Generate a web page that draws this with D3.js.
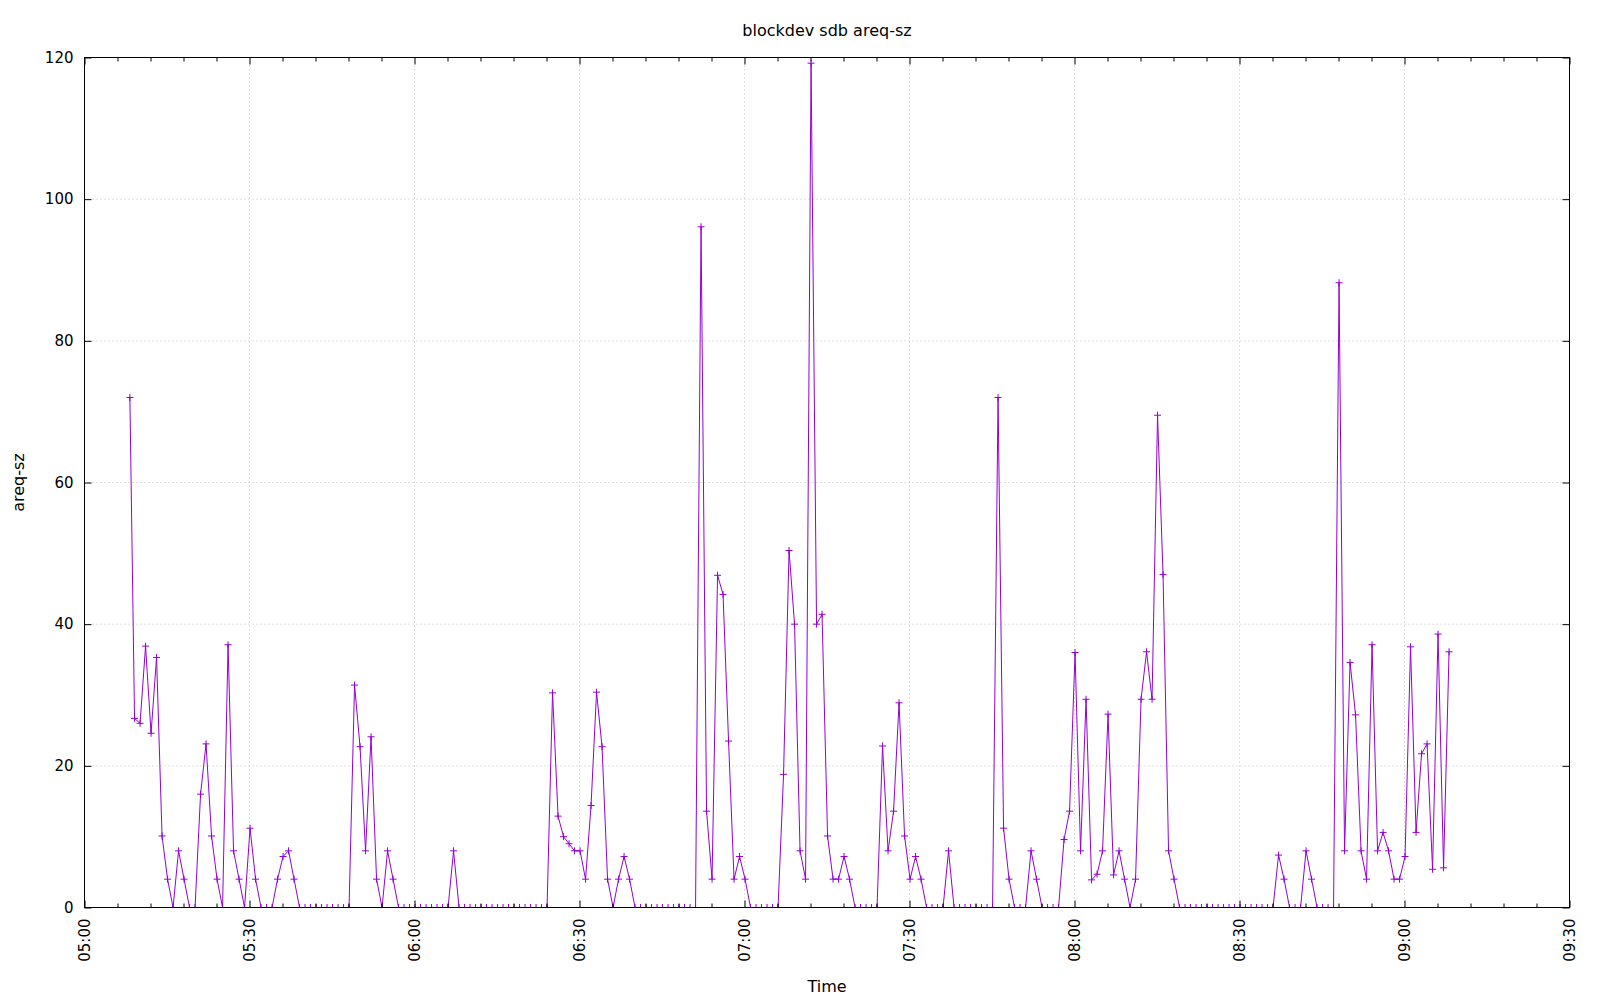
<!DOCTYPE html>
<html>
<head>
<meta charset="utf-8">
<script src="https://cdn.jsdelivr.net/npm/d3@7"></script>
<style>
  body { margin: 0; background: #fff; }
  svg text { font-family: "DejaVu Sans", sans-serif; font-size: 15px; fill: #000; }
  svg text.label { font-size: 16px; }
</style>
</head>
<body>
<div class="svg-container"></div>
<script>
const chartTitle = 'blockdev sdb areq-sz';
const xLabel = 'Time';
const yLabel = 'areq-sz';

// sampling: one odd first sample, then one every minute
const firstSampleTime = '05:08:15';
const sampleStart = '05:09:06';
const sampleStepSec = 60;

const areqSz = [
  72.0,
  26.7, 26.0, 36.9, 24.6, 35.3, 10.1, 4.0, 0, 8.0, 4.0, 0, 0, 16.0, 23.1, 10.1, 4.0, 0, 37.1, 8.0, 4.0,
  0, 11.2, 4.0, 0, 0, 0, 4.0, 7.2, 8.0, 4.0,
  0, 0, 0, 0, 0, 0, 0, 0, 0, 0,
  31.4, 22.7, 8.0, 24.1, 4.0, 0, 8.0, 4.0, 0, 0,
  0, 0, 0, 0, 0, 0, 0, 0, 8.0, 0,
  0, 0, 0, 0, 0, 0, 0, 0, 0, 0,
  0, 0, 0, 0, 0, 0, 30.3, 12.9, 10.0, 9.0,
  8.0, 8.0, 4.0, 14.4, 30.4, 22.7, 4.0, 0, 4.0, 7.2,
  4.0, 0, 0, 0, 0, 0, 0, 0, 0, 0,
  0, 0, 0, 96.1, 13.6, 4.0, 46.9, 44.2, 23.5, 4.0,
  7.2, 4.0, 0, 0, 0, 0, 0, 0, 18.8, 50.4,
  40.0, 8.0, 4.0, 119.2, 40.0, 41.4, 10.1, 4.0, 4.0, 7.2,
  4.0, 0, 0, 0, 0, 0, 22.8, 8.0, 13.6, 28.9,
  10.1, 4.0, 7.2, 4.0, 0, 0, 0, 0, 8.0, 0,
  0, 0, 0, 0, 0, 0, 0, 72.0, 11.2, 4.0,
  0, 0, 0, 8.0, 4.0, 0, 0, 0, 0, 9.6,
  13.6, 36.0, 8.0, 29.4, 3.9, 4.7, 8.0, 27.3, 4.6, 8.0,
  4.0, 0, 4.0, 29.4, 36.1, 29.4, 69.5, 47.0, 8.0, 4.0,
  0, 0, 0, 0, 0, 0, 0, 0, 0, 0,
  0, 0, 0, 0, 0, 0, 0, 0, 7.4, 4.0,
  0, 0, 0, 8.0, 4.0, 0, 0, 0, 0, 88.2,
  8.0, 34.6, 27.2, 8.0, 4.0, 37.1, 8.0, 10.6, 8.0, 4.0,
  4.0, 7.2, 36.8, 10.6, 21.7, 23.1, 5.4, 38.6, 5.6, 36.1
];

const xDomain = ['05:00', '09:30'];
const yDomain = [0, 120];
const yTicks = [0, 20, 40, 60, 80, 100, 120];

function toDate(str) {
  const p = str.split(':').map(Number);
  return new Date(Date.UTC(2000, 0, 1, p[0], p[1], p[2] || 0));
}

const startDate = toDate(sampleStart);
const data = areqSz.map((v, i) => ({
  t: i === 0 ? toDate(firstSampleTime) : new Date(startDate.getTime() + (i - 1) * sampleStepSec * 1000),
  v: v
}));

const width = 1600;
const height = 1000;
const plotLeft = 84.5, plotRight = 1569.5, plotTop = 57.5, plotBottom = 907.5;
const purple = '#9400d3';

const svg = d3.select('.svg-container')
  .append('svg')
  .attr('width', width)
  .attr('height', height);

const x = d3.scaleUtc().domain(xDomain.map(toDate)).range([plotLeft, plotRight]);
const y = d3.scaleLinear().domain(yDomain).range([plotBottom, plotTop]);

const majorX = x.ticks(d3.utcMinute.every(30));
const minorX = x.ticks(d3.utcMinute.every(6)).filter((d) => d.getUTCMinutes() % 30 !== 0);

// dotted grid
const grid = svg.append('g')
  .attr('stroke', '#c0c0c0')
  .attr('stroke-width', 1)
  .attr('stroke-dasharray', '1,3');

grid.selectAll('.gx')
  .data(majorX.slice(1, -1))
  .enter()
  .append('line')
  .attr('x1', (d) => x(d)).attr('x2', (d) => x(d))
  .attr('y1', plotTop).attr('y2', plotBottom);

grid.selectAll('.gy')
  .data(yTicks.slice(1, -1))
  .enter()
  .append('line')
  .attr('x1', plotLeft).attr('x2', plotRight)
  .attr('y1', (d) => y(d)).attr('y2', (d) => y(d));

// clip for the series
svg.append('clipPath')
  .attr('id', 'plot-clip')
  .append('rect')
  .attr('x', plotLeft).attr('y', plotTop)
  .attr('width', plotRight - plotLeft).attr('height', plotBottom - plotTop);

const plot = svg.append('g').attr('clip-path', 'url(#plot-clip)');

plot.append('path')
  .datum(data)
  .attr('fill', 'none')
  .attr('stroke', purple)
  .attr('stroke-width', 1)
  .attr('d', d3.line().x((d) => x(d.t)).y((d) => y(d.v)));

plot.selectAll('.pt')
  .data(data)
  .enter()
  .append('path')
  .attr('fill', 'none')
  .attr('stroke', purple)
  .attr('stroke-width', 1)
  .attr('transform', (d) => `translate(${x(d.t)},${y(d.v)})`)
  .attr('d', 'M-3.5,0H3.5M0,-3.5V3.5');

// axes, ticks pointing inward like gnuplot
function styleAxis(g) {
  g.select('.domain').remove();
  g.attr('font-family', 'DejaVu Sans').attr('font-size', 15);
}

svg.append('g')
  .attr('transform', `translate(0,${plotBottom})`)
  .call(d3.axisBottom(x).tickValues(majorX).tickFormat(d3.utcFormat('%H:%M')).tickSizeInner(-7).tickSizeOuter(0))
  .call(styleAxis)
  .selectAll('text')
  .attr('transform', 'rotate(-90)')
  .attr('x', -11)
  .attr('y', 0)
  .attr('dy', '0.35em')
  .style('text-anchor', 'end');

svg.append('g')
  .attr('transform', `translate(0,${plotBottom})`)
  .call(d3.axisBottom(x).tickValues(minorX).tickFormat('').tickSizeInner(-4).tickSizeOuter(0))
  .call(styleAxis);

svg.append('g')
  .attr('transform', `translate(0,${plotTop})`)
  .call(d3.axisTop(x).tickValues(majorX).tickFormat('').tickSizeInner(-7).tickSizeOuter(0))
  .call(styleAxis);

svg.append('g')
  .attr('transform', `translate(0,${plotTop})`)
  .call(d3.axisTop(x).tickValues(minorX).tickFormat('').tickSizeInner(-4).tickSizeOuter(0))
  .call(styleAxis);

svg.append('g')
  .attr('transform', `translate(${plotLeft},0)`)
  .call(d3.axisLeft(y).tickValues(yTicks).tickSizeInner(-7).tickSizeOuter(0).tickPadding(11))
  .call(styleAxis);

svg.append('g')
  .attr('transform', `translate(${plotRight},0)`)
  .call(d3.axisRight(y).tickValues(yTicks).tickFormat('').tickSizeInner(-7).tickSizeOuter(0))
  .call(styleAxis);

// border
svg.append('rect')
  .attr('x', plotLeft).attr('y', plotTop)
  .attr('width', plotRight - plotLeft).attr('height', plotBottom - plotTop)
  .attr('fill', 'none')
  .attr('stroke', '#000')
  .attr('stroke-width', 1);

// labels
svg.append('text')
  .attr('class', 'label')
  .attr('x', (plotLeft + plotRight) / 2)
  .attr('y', 30)
  .attr('dy', '0.35em')
  .attr('text-anchor', 'middle')
  .text(chartTitle);

svg.append('text')
  .attr('class', 'label')
  .attr('x', (plotLeft + plotRight) / 2)
  .attr('y', 986)
  .attr('dy', '0.35em')
  .attr('text-anchor', 'middle')
  .text(xLabel);

svg.append('text')
  .attr('class', 'label')
  .attr('transform', `translate(18.5,${(plotTop + plotBottom) / 2}) rotate(-90)`)
  .attr('dy', '0.35em')
  .attr('text-anchor', 'middle')
  .text(yLabel);
</script>
</body>
</html>
